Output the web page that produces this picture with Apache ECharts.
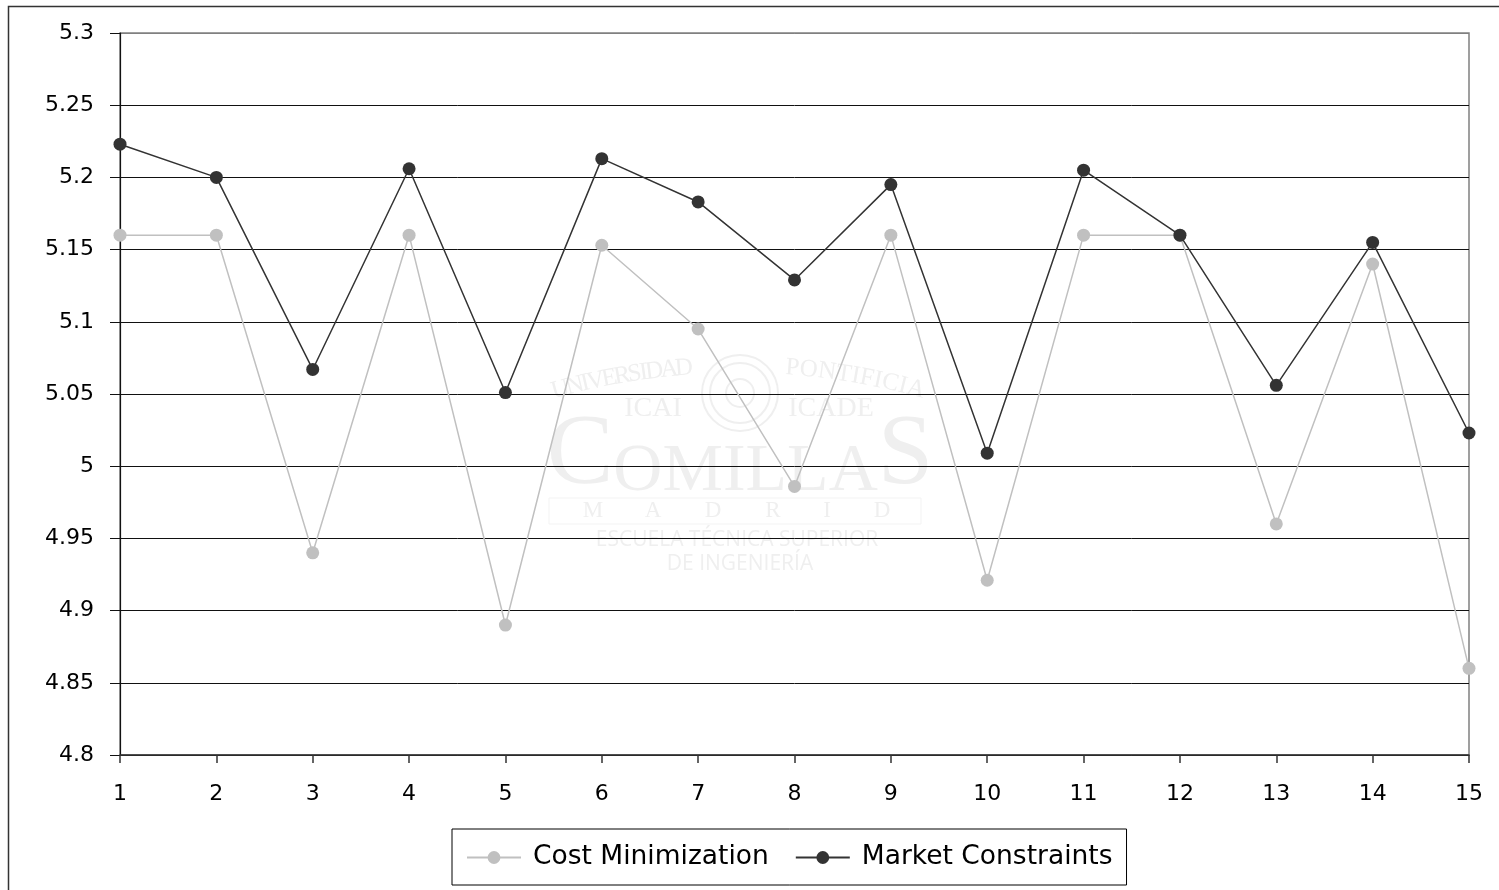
<!DOCTYPE html>
<html>
<head>
<meta charset="utf-8">
<script src="https://cdn.jsdelivr.net/npm/echarts@6/dist/echarts.min.js"></script>
<style>
  html, body { margin: 0; padding: 0; background: #fff; }
  #chart { width: 1499px; height: 890px; }
</style>
</head>
<body>
<div id="chart"></div>
<script>
// Scenario index on the horizontal axis
const categories = ['1','2','3','4','5','6','7','8','9','10','11','12','13','14','15'];
// Series values
const costMinimization = [5.160, 5.160, 4.940, 5.160, 4.890, 5.153, 5.095, 4.986, 5.160, 4.921, 5.160, 5.160, 4.960, 5.140, 4.860];
const marketConstraints = [5.223, 5.200, 5.067, 5.206, 5.051, 5.213, 5.183, 5.129, 5.195, 5.009, 5.205, 5.160, 5.056, 5.155, 5.023];
const seriesNames = ['Cost Minimization', 'Market Constraints'];
// Value axis range
const yMin = 4.8, yMax = 5.3, yStep = 0.05;

const FONT = 'DejaVu Sans';
const WM = '#efefef';

// Faint institutional watermark behind the plot.
// Arc text: letters are spaced by their measured widths along a wide circle.
const measureCtx = document.createElement('canvas').getContext('2d');
function arcLetters(word, a0, a1) {
  const cx = 739, cy = 1048, r = 682;
  const font = '25px "Liberation Serif"';
  measureCtx.font = font;
  const widths = word.split('').map(ch => measureCtx.measureText(ch).width);
  const total = widths.reduce((a, b) => a + b, 0);
  const out = [];
  let acc = 0;
  for (let i = 0; i < word.length; i++) {
    const mid = (acc + widths[i] / 2) / total;
    acc += widths[i];
    const th = (a0 + mid * (a1 - a0)) * Math.PI / 180;
    out.push({
      type: 'text', z: -1, silent: true,
      x: cx + r * Math.sin(th), y: cy - r * Math.cos(th),
      rotation: -th,
      style: { text: word[i], fill: WM, font: font, align: 'center', verticalAlign: 'middle' }
    });
  }
  return out;
}
const madrid = ['M','A','D','R','I','D'];
const madridX = [593, 653, 713, 773, 827, 882];
const sealRings = [38, 30, 14];
const watermark = [].concat(
  arcLetters('UNIVERSIDAD', -15.8, -4.0),
  arcLetters('PONTIFICIA', 3.9, 15.8),
  sealRings.map(r => ({
    type: 'circle', z: -1, silent: true, shape: { cx: 740, cy: 393, r: r },
    style: { fill: null, stroke: WM, lineWidth: 2 }
  })),
  [
    { type: 'text', z: -1, silent: true, x: 653, y: 409, style: { text: 'ICAI', fill: WM, font: '28px "Liberation Serif"', align: 'center', verticalAlign: 'middle' } },
    { type: 'text', z: -1, silent: true, x: 831, y: 409, style: { text: 'ICADE', fill: WM, font: '28px "Liberation Serif"', align: 'center', verticalAlign: 'middle' } },
    { type: 'text', z: -1, silent: true, x: 740, y: 506, style: {
        text: '{b|C}{s|OMILLA}{b|S}', align: 'center', verticalAlign: 'bottom',
        rich: {
          b: { fill: WM, fontFamily: 'Liberation Serif', fontSize: 100, verticalAlign: 'bottom' },
          s: { fill: WM, fontFamily: 'Liberation Serif', fontSize: 68, verticalAlign: 'bottom' }
        }
      } },
    { type: 'rect', z: -1, silent: true, shape: { x: 549, y: 498, width: 372, height: 26 }, style: { fill: null, stroke: '#f3f3f3', lineWidth: 1 } },
    { type: 'text', z: -1, silent: true, x: 737, y: 540, style: { text: 'ESCUELA TÉCNICA SUPERIOR', fill: WM, font: '21px "Open Sans"', align: 'center', verticalAlign: 'middle' } },
    { type: 'text', z: -1, silent: true, x: 740, y: 564, style: { text: 'DE INGENIERÍA', fill: WM, font: '21px "Open Sans"', align: 'center', verticalAlign: 'middle' } }
  ],
  madrid.map((ch, i) => ({
    type: 'text', z: -1, silent: true, x: madridX[i], y: 511,
    style: { text: ch, fill: WM, font: '23px "Liberation Serif"', align: 'center', verticalAlign: 'middle' }
  }))
);

// Outer chart frame
const frame = {
  type: 'rect', z: 10, silent: true,
  shape: { x: 8.5, y: 6.5, width: 1700, height: 1000 },
  style: { fill: null, stroke: '#333', lineWidth: 1.5 }
};

const gridColors = [];
for (let i = 0; i < 10; i++) gridColors.push('#111');
gridColors.push('#808080');

const chart = echarts.init(document.getElementById('chart'), null, { renderer: 'canvas' });
chart.setOption({
  animation: false,
  backgroundColor: '#fff',
  textStyle: { fontFamily: FONT },
  graphic: [frame].concat(watermark),
  grid: {
    left: 120, right: 30, top: 33, bottom: 135,
    show: true, borderColor: '#808080', borderWidth: 1.5, backgroundColor: 'transparent'
  },
  legend: {
    data: seriesNames,
    left: 452, top: 829,
    orient: 'horizontal',
    itemWidth: 54, itemHeight: 16, itemGap: 26,
    padding: [15, 14, 14, 14],
    borderColor: '#000', borderWidth: 1,
    textStyle: { fontFamily: FONT, fontSize: 26.5, color: '#000', padding: [4, 0, 0, 7] }
  },
  xAxis: {
    type: 'category',
    data: categories,
    boundaryGap: false,
    axisLine: { lineStyle: { color: '#333', width: 1.5 } },
    axisTick: { show: true, length: 8, alignWithLabel: true, interval: 0, lineStyle: { color: '#333', width: 1.5 } },
    axisLabel: { interval: 0, margin: 28, fontFamily: FONT, fontSize: 22, color: '#000' },
    splitLine: { show: false }
  },
  yAxis: {
    type: 'value',
    min: yMin, max: yMax, interval: yStep,
    axisLine: { show: true, lineStyle: { color: '#111', width: 1.2 } },
    axisTick: { show: true, length: 10, lineStyle: { color: '#111', width: 1 } },
    axisLabel: {
      margin: 26, fontFamily: FONT, fontSize: 22, color: '#000',
      formatter: v => String(Number(v.toFixed(2)))
    },
    splitLine: { show: true, lineStyle: { color: gridColors, width: 1 } }
  },
  series: [
    {
      name: seriesNames[0], type: 'line', data: costMinimization,
      symbol: 'circle', symbolSize: 13,
      itemStyle: { color: '#c0c0c0' },
      lineStyle: { color: '#c0c0c0', width: 1.5 },
      z: 2
    },
    {
      name: seriesNames[1], type: 'line', data: marketConstraints,
      symbol: 'circle', symbolSize: 13,
      itemStyle: { color: '#333333' },
      lineStyle: { color: '#333333', width: 1.5 },
      z: 3
    }
  ]
});
</script>
</body>
</html>
